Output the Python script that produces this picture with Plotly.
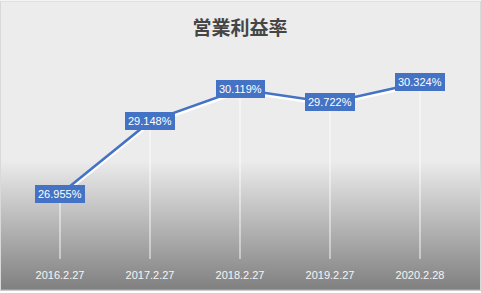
import base64
import plotly.graph_objects as go

# ---- data ----
dates = ["2016.2.27", "2017.2.27", "2018.2.27", "2019.2.27", "2020.2.28"]
margin_pct = [26.955, 29.148, 30.119, 29.722, 30.324]
title_text = "営業利益率"
y_min, y_max = 25, 31

W, H = 481, 293
ML, MR, MT, MB = 15, 16, 60, 32
PW, PH = W - ML - MR, H - MT - MB

BLUE = "#4472C4"

svg = f'''<svg xmlns="http://www.w3.org/2000/svg" width="{W}" height="{H}" viewBox="0 0 {W} {H}" preserveAspectRatio="none">
<defs><linearGradient id="g" x1="0" y1="0" x2="0" y2="1">
<stop offset="0" stop-color="#ececec"/><stop offset="0.55" stop-color="#ececec"/><stop offset="1" stop-color="#7f7f7f"/>
</linearGradient></defs>
<rect x="0" y="0" width="{W}" height="{H}" fill="url(#g)"/>
<rect x="0.5" y="0.5" width="{W-1}" height="{H-1}" fill="none" stroke="#d9d9d9" stroke-width="1"/>
</svg>'''
src = "data:image/svg+xml;base64," + base64.b64encode(svg.encode()).decode()

fig = go.Figure()

# drop lines (white verticals)
fig.add_trace(go.Scatter(
    x=dates, y=margin_pct, mode="markers", marker=dict(size=0.1, color="rgba(0,0,0,0)"),
    error_y=dict(type="data", symmetric=False, array=[0] * len(margin_pct),
                 arrayminus=[v - y_min for v in margin_pct], color="rgba(255,255,255,0.9)",
                 thickness=1, width=0),
    hoverinfo="skip", showlegend=False))

# shadow of line
fig.add_trace(go.Scatter(
    x=dates, y=[v - 0.07 for v in margin_pct], mode="lines",
    line=dict(color="white", width=3), hoverinfo="skip", showlegend=False))

# main line
fig.add_trace(go.Scatter(
    x=dates, y=margin_pct, mode="lines",
    line=dict(color=BLUE, width=2.5), showlegend=False))

for d, v in zip(dates, margin_pct):
    fig.add_annotation(x=d, y=v, text=f"{v:.3f}%", showarrow=False,
                       bgcolor=BLUE, borderpad=3, borderwidth=0,
                       font=dict(family="Liberation Sans, Arial", size=11, color="white"))

fig.update_layout(
    width=W, height=H,
    margin=dict(l=ML, r=MR, t=MT, b=MB),
    paper_bgcolor="rgba(0,0,0,0)", plot_bgcolor="rgba(0,0,0,0)",
    title=dict(text=title_text, x=0.5, xref="paper", xanchor="center", y=1 - 28 / H, yanchor="middle",
               font=dict(family="Noto Sans CJK JP", size=19, color="#454545", weight="bold")),
    images=[dict(source=src, xref="paper", yref="paper",
                 x=-ML / PW, y=1 + MT / PH, sizex=W / PW, sizey=H / PH,
                 xanchor="left", yanchor="top", sizing="stretch", layer="below")],
    xaxis=dict(type="category", range=[-0.5, len(dates) - 0.5], showgrid=False, zeroline=False,
               showline=False, ticks="", ticklabelstandoff=8,
               tickfont=dict(family="Liberation Sans, Arial", size=11, color="#f5f5f5")),
    yaxis=dict(range=[y_min, y_max], visible=False, showgrid=False, zeroline=False),
    showlegend=False,
)

fig.write_html("out.html")
